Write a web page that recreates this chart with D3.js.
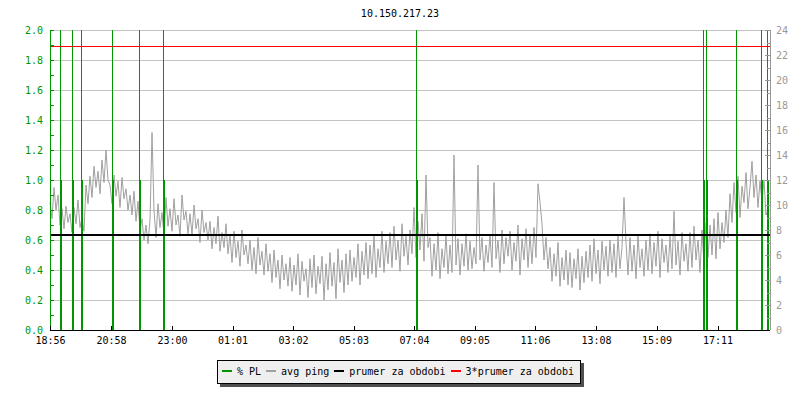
<!DOCTYPE html>
<html>
<head>
<meta charset="utf-8">
<script src="https://cdn.jsdelivr.net/npm/d3@7"></script>
<style>
  body { margin: 0; background: #fff; }
  text { font-family: "DejaVu Sans Mono", monospace; font-size: 10px; }
</style>
</head>
<body>
<div id="chart"></div>
<script>
// chart data
var title = "10.150.217.23";
var timeLabels = ["18:56", "20:58", "23:00", "01:01", "03:02", "05:03", "07:04", "09:05", "11:06", "13:08", "15:09", "17:11"];
var timeTickMinutes = [0, 122, 244, 365, 486, 607, 728, 849, 970, 1092, 1213, 1335];
var leftTicks = [0, 0.2, 0.4, 0.6, 0.8, 1.0, 1.2, 1.4, 1.6, 1.8, 2.0];
var leftMinorTicks = [0.1, 0.3, 0.5, 0.7, 0.9, 1.1, 1.3, 1.5, 1.7, 1.9];
var rightTicks = [0, 2, 4, 6, 8, 10, 12, 14, 16, 18, 20, 22, 24];
var rightMinorTicks = [1, 3, 5, 7, 9, 11, 13, 15, 17, 19, 21, 23];

// % PL events (minutes from 18:56) and value on left axis
var plMinutes = [20, 44, 62, 123, 178, 226, 732, 1306, 1312, 1372, 1422, 1434];
var plValues = [1, 1, 1, 1, 1, 1, 1, 1, 1, 1, 1, 1];

// avg ping in ms, one sample every 4 minutes from 18:56
var pingStep = 4;
var avgPing = [
  10.2, 8.9, 11.4, 9.6, 10.8, 8.4, 9.7, 8.1, 9.9, 8.6,
  9.3, 7.8, 9.8, 8.5, 10.4, 8.2, 9.0, 7.9, 11.6, 10.1,
  12.3, 10.6, 13.1, 11.4, 12.7, 10.9, 13.6, 11.8, 14.4, 12.0,
  11.6, 10.1, 12.4, 10.7, 11.9, 9.8, 12.2, 10.5, 11.3, 9.6,
  10.8, 9.2, 11.1, 8.7, 10.3, 8.0, 8.9, 7.2, 8.4, 6.9,
  8.8, 15.8, 9.6, 7.4, 10.1, 8.2, 9.4, 7.6, 10.6, 8.3,
  9.7, 7.9, 10.5, 8.4, 9.2, 7.5, 10.8, 8.8, 9.5, 7.7,
  9.3, 7.6, 10.0, 8.1, 8.9, 7.0, 9.6, 7.8, 8.6, 7.2,
  8.7, 6.5, 8.2, 6.9, 9.1, 6.3, 7.8, 6.6, 8.5, 6.1,
  7.6, 5.4, 7.9, 5.8, 7.1, 5.1, 8.0, 6.0, 6.8, 5.3,
  7.2, 4.8, 6.6, 4.5, 7.4, 5.2, 6.3, 4.4, 6.9, 4.7,
  6.1, 3.8, 6.4, 4.2, 5.6, 3.3, 6.0, 4.0, 5.3, 3.5,
  5.8, 3.1, 5.2, 3.6, 6.1, 2.8, 5.5, 3.9, 4.9, 2.6,
  5.7, 3.4, 6.0, 2.9, 5.1, 3.7, 5.9, 2.4, 5.3, 3.2,
  6.2, 3.5, 5.4, 2.5, 6.5, 3.8, 5.6, 3.0, 6.1, 3.6,
  6.4, 3.9, 5.8, 4.2, 6.9, 3.6, 6.3, 4.4, 7.0, 4.1,
  6.8, 4.5, 7.6, 4.2, 6.5, 5.0, 7.9, 4.6, 7.1, 5.3,
  7.8, 5.0, 8.3, 5.6, 7.2, 4.7, 8.5, 5.9, 7.5, 5.2,
  8.0, 6.1, 9.8, 5.8, 8.7, 6.4, 9.3, 5.5, 12.4, 6.6,
  7.4, 4.3, 6.9, 4.8, 7.8, 4.1, 6.5, 5.0, 7.6, 4.5,
  6.8, 4.6, 14.0, 5.2, 7.3, 4.4, 6.9, 5.1, 7.7, 4.8,
  7.1, 4.9, 6.6, 5.3, 13.2, 5.6, 7.4, 4.7, 6.8, 5.4,
  7.6, 5.0, 11.8, 5.7, 7.2, 4.6, 8.0, 5.3, 7.4, 5.9,
  7.9, 4.8, 7.0, 5.5, 8.4, 4.4, 7.3, 5.6, 8.1, 5.0,
  7.6, 5.3, 8.2, 5.8, 11.7, 10.2, 8.5, 5.6, 7.4, 4.9,
  6.6, 3.9, 6.1, 4.3, 7.0, 3.5, 5.8, 4.0, 6.4, 3.6,
  6.2, 3.4, 5.7, 4.1, 6.5, 3.2, 5.9, 3.8, 6.3, 4.2,
  6.8, 3.9, 7.3, 4.5, 6.4, 3.7, 7.1, 4.8, 6.7, 4.3,
  7.2, 4.6, 6.9, 4.2, 7.5, 4.9, 6.6, 10.6, 7.0, 4.4,
  7.4, 4.7, 6.8, 4.1, 7.6, 5.0, 6.5, 4.3, 7.2, 4.8,
  7.7, 4.5, 7.0, 5.1, 7.9, 4.2, 7.3, 5.4, 6.8, 4.6,
  7.5, 4.9, 9.5, 5.2, 7.1, 4.4, 7.8, 5.5, 6.9, 4.7,
  7.8, 5.0, 8.3, 5.6, 7.2, 4.6, 8.0, 5.3, 8.6, 5.8,
  8.4, 6.0, 8.9, 5.7, 9.4, 6.5, 8.6, 7.0, 9.6, 7.4,
  10.9, 8.6, 11.8, 9.4, 12.3, 9.0, 11.5, 10.2, 12.6, 9.7,
  11.4, 13.5, 10.6, 12.4, 9.8, 11.9, 10.3, 12.0, 9.2, 9.6
];

var prumer = 7.58;
var legendLabels = ["% PL", "avg ping", "prumer za obdobi", "3*prumer za obdobi"];
var legendColors = ["#009600", "#a0a0a0", "#000000", "#ff0000"];

var green = "#009600", gray = "#a0a0a0", gridColor = "#c4c4c4";

var margin = {top: 30, right: 30, bottom: 70, left: 50},
  width = 800 - margin.left - margin.right,
  height = 400 - margin.top - margin.bottom;

var svg = d3.select("#chart")
  .append("svg")
    .attr("width", 800)
    .attr("height", 400);

svg.append("text")
  .attr("x", 400)
  .attr("y", 17)
  .attr("text-anchor", "middle")
  .text(title);

var g = svg.append("g")
  .attr("transform", "translate(" + margin.left + "," + margin.top + ")");

var x = d3.scaleLinear().domain([0, 1440]).range([0, width]);
var yL = d3.scaleLinear().domain([0, 2]).range([height, 0]);
var yR = d3.scaleLinear().domain([0, 24]).range([height, 0]);

// horizontal grid
g.append("g")
  .selectAll("line")
  .data(leftTicks)
  .join("line")
    .attr("x1", 0)
    .attr("x2", width)
    .attr("y1", function(d) { return Math.round(yL(d)) + 0.5; })
    .attr("y2", function(d) { return Math.round(yL(d)) + 0.5; })
    .attr("stroke", gridColor);

// avg ping
var line = d3.line()
  .x(function(d, i) { return x(i * pingStep); })
  .y(function(d) { return yR(d); });
g.append("path")
  .datum(avgPing)
  .attr("fill", "none")
  .attr("stroke", gray)
  .attr("stroke-width", 1)
  .attr("d", line);

// % PL: thin full-height rule plus thick impulse
var pl = plMinutes.map(function(m, i) { return {t: m, v: plValues[i]}; });
g.append("g")
  .selectAll("line")
  .data(pl)
  .join("line")
    .attr("x1", function(d) { return Math.round(x(d.t)) + 0.5; })
    .attr("x2", function(d) { return Math.round(x(d.t)) + 0.5; })
    .attr("y1", 0)
    .attr("y2", height)
    .attr("stroke", green);
g.append("g")
  .selectAll("rect")
  .data(pl)
  .join("rect")
    .attr("x", function(d) { return Math.round(x(d.t)); })
    .attr("y", function(d) { return yL(d.v); })
    .attr("width", 2)
    .attr("height", function(d) { return height - yL(d.v); })
    .attr("fill", green);

// averages
g.append("line")
  .attr("x1", 0).attr("x2", width)
  .attr("y1", yR(prumer)).attr("y2", yR(prumer))
  .attr("stroke", "#000").attr("stroke-width", 2);
g.append("line")
  .attr("x1", 0).attr("x2", width)
  .attr("y1", Math.round(yR(prumer * 3)) + 0.5).attr("y2", Math.round(yR(prumer * 3)) + 0.5)
  .attr("stroke", "#ff0000").attr("stroke-width", 1);

// left axis
var leftAxis = g.append("g")
  .call(d3.axisLeft(yL).tickValues(leftTicks).tickFormat(d3.format(".1f")).tickSize(-4).tickPadding(7));
g.append("g")
  .call(d3.axisLeft(yL).tickValues(leftMinorTicks).tickFormat("").tickSize(-4));
g.selectAll(".domain").remove();
g.append("line")
  .attr("x1", 0.5).attr("x2", 0.5).attr("y1", 0).attr("y2", height)
  .attr("stroke", green);
leftAxis.selectAll("text").attr("fill", green).style("font-size", "10px").style("font-family", "DejaVu Sans Mono");
g.selectAll(".tick line").attr("stroke", green);

// right axis
var rightAxis = g.append("g")
  .attr("transform", "translate(" + width + ",0)")
  .call(d3.axisRight(yR).tickValues(rightTicks).tickSize(-5).tickPadding(6));
var rightMinor = g.append("g")
  .attr("transform", "translate(" + width + ",0)")
  .call(d3.axisRight(yR).tickValues(rightMinorTicks).tickFormat("").tickSize(-3));
rightAxis.select(".domain").remove();
rightMinor.select(".domain").remove();
rightAxis.selectAll("line").attr("stroke", "#999");
rightMinor.selectAll("line").attr("stroke", "#999");
rightAxis.selectAll("text").attr("fill", "#999").style("font-size", "10px").style("font-family", "DejaVu Sans Mono");
g.append("line")
  .attr("x1", width + 0.5).attr("x2", width + 0.5).attr("y1", 0).attr("y2", height)
  .attr("stroke", "#999");

// bottom axis
var bottomAxis = g.append("g")
  .attr("transform", "translate(0," + height + ")")
  .call(d3.axisBottom(x).tickValues(timeTickMinutes)
    .tickFormat(function(d, i) { return timeLabels[i]; })
    .tickSize(-4).tickPadding(7));
bottomAxis.select(".domain").remove();
bottomAxis.selectAll("line").attr("stroke", "#000");
bottomAxis.selectAll("text").attr("fill", "#000").style("font-size", "10px").style("font-family", "DejaVu Sans Mono");
g.append("line")
  .attr("x1", 0).attr("x2", width).attr("y1", height + 0.5).attr("y2", height + 0.5)
  .attr("stroke", "#000");
g.selectAll("line, rect").attr("shape-rendering", "crispEdges");

// legend
var legend = svg.append("g");
var shadow = legend.append("rect").attr("fill", "#505050");
var box = legend.append("rect").attr("fill", "#efefef").attr("stroke", "#000");
var cursor = 222;
legendLabels.forEach(function(lab, i) {
  legend.append("rect")
    .attr("x", cursor).attr("y", 370)
    .attr("width", 10).attr("height", 2)
    .attr("fill", legendColors[i]);
  var t = legend.append("text")
    .attr("x", cursor + 15).attr("y", 375)
    .text(lab);
  cursor = cursor + 15 + t.node().getComputedTextLength() + 5;
});
box.attr("x", 217.5).attr("y", 360.5).attr("width", cursor - 217 + 1).attr("height", 23);
shadow.attr("x", 220).attr("y", 363).attr("width", cursor - 217 + 2).attr("height", 24);
legend.selectAll("rect").attr("shape-rendering", "crispEdges");
</script>
</body>
</html>
